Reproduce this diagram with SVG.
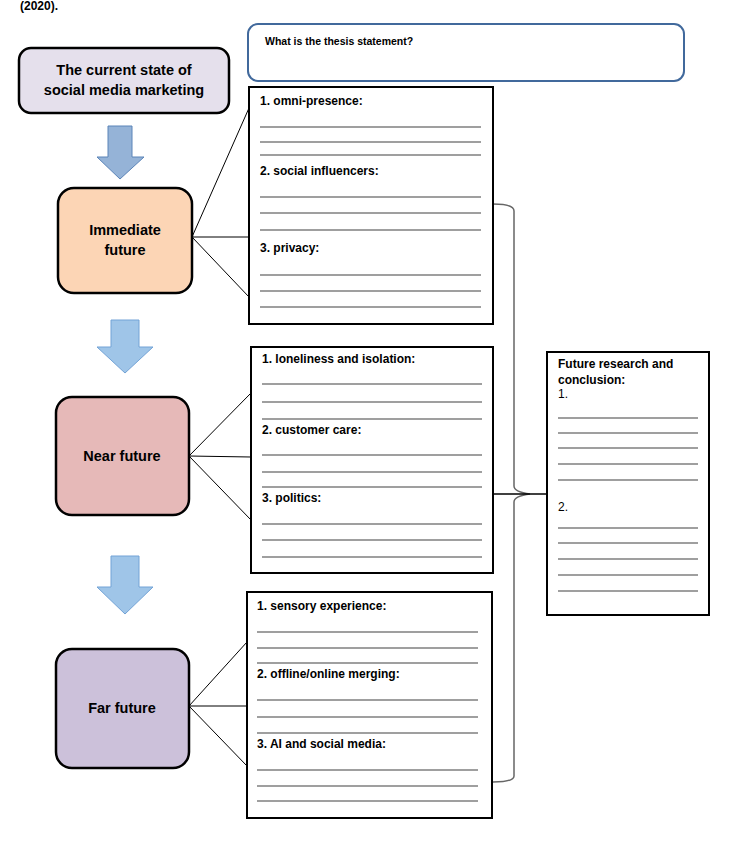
<svg xmlns="http://www.w3.org/2000/svg" width="729" height="845" viewBox="0 0 729 845">
<style>
text{font-family:"Liberation Sans",Arial,sans-serif;fill:#000}
.b{font-weight:bold}
.t14{font-size:14.5px;font-weight:bold}
.t12{font-size:12px}
.node{stroke:#000;stroke-width:2.5}
.box{fill:#fff;stroke:#000;stroke-width:2}
.ln{stroke:#7f7f7f;stroke-width:1.5}
.con{stroke:#000;stroke-width:1;fill:none}
.arr1{fill:#95b3d7;stroke:#5b84b8;stroke-width:1}
.arr2{fill:#9fc5e8;stroke:#73a3d6;stroke-width:1}
</style>
<rect width="729" height="845" fill="#fff"/>
<text x="20" y="10" class="t12 b">(2020).</text>

<g id="connectors">
<line class="con" x1="192" y1="237" x2="249" y2="108"/>
<line class="con" x1="192" y1="237" x2="249" y2="237"/>
<line class="con" x1="192" y1="237" x2="249" y2="297"/>
<line class="con" x1="189" y1="456" x2="251" y2="393"/>
<line class="con" x1="189" y1="456" x2="251" y2="457"/>
<line class="con" x1="189" y1="456" x2="251" y2="520"/>
<line class="con" x1="189" y1="706" x2="247" y2="642"/>
<line class="con" x1="189" y1="706" x2="247" y2="706"/>
<line class="con" x1="189" y1="706" x2="247" y2="766"/>
<path d="M493 204 Q514 204 514 211 L514 486 Q514 492 530 494 Q514 496 514 502 L514 776 Q514 782 493 782" fill="none" stroke="#666" stroke-width="1.5"/>
<line x1="493" y1="494" x2="547" y2="494" stroke="#000" stroke-width="1.5"/>
<polygon class="arr1" points="108,126 132,126 132,157 144,157 120,179 97,157 108,157"/>
<polygon class="arr2" points="111,320 139,320 139,347 153,347 125,373 97,347 111,347"/>
<polygon class="arr2" points="111,556 139,556 139,587 153,587 125,614 97,587 111,587"/>
</g>

<g id="current">
<rect class="node" x="19" y="48" width="210" height="65" rx="12" fill="#e5e0ec"/>
<text x="124" y="75" text-anchor="middle" class="t14">The current state of</text>
<text x="124" y="95" text-anchor="middle" class="t14">social media marketing</text>
</g>

<g id="immediate">
<rect class="node" x="58" y="188" width="134" height="105" rx="16" fill="#fcd5b5"/>
<text x="125" y="235" text-anchor="middle" class="t14">Immediate</text>
<text x="125" y="255" text-anchor="middle" class="t14">future</text>
</g>

<g id="near">
<rect class="node" x="56" y="397" width="133" height="118" rx="16" fill="#e6b9b8"/>
<text x="122" y="461" text-anchor="middle" class="t14">Near future</text>
</g>

<g id="far">
<rect class="node" x="56" y="649" width="133" height="119" rx="16" fill="#ccc1da"/>
<text x="122" y="713" text-anchor="middle" class="t14">Far future</text>
</g>

<g id="thesis">
<rect x="248" y="24" width="436" height="57" rx="10" fill="#fff" stroke="#41699c" stroke-width="2"/>
<text x="265" y="45" class="b" font-size="10.5">What is the thesis statement?</text>
</g>

<g id="box-immediate">
<rect class="box" x="249" y="87" width="244" height="237"/>
<text x="260" y="105" class="t12 b">1. omni-presence:</text>
<line class="ln" x1="260" y1="127" x2="481" y2="127"/>
<line class="ln" x1="260" y1="142" x2="481" y2="142"/>
<line class="ln" x1="260" y1="155" x2="481" y2="155"/>
<text x="260" y="175" class="t12 b">2. social influencers:</text>
<line class="ln" x1="260" y1="197" x2="481" y2="197"/>
<line class="ln" x1="260" y1="213" x2="481" y2="213"/>
<line class="ln" x1="260" y1="230" x2="481" y2="230"/>
<text x="260" y="252" class="t12 b">3. privacy:</text>
<line class="ln" x1="260" y1="275" x2="481" y2="275"/>
<line class="ln" x1="260" y1="291" x2="481" y2="291"/>
<line class="ln" x1="260" y1="307" x2="481" y2="307"/>
</g>

<g id="box-near">
<rect class="box" x="251" y="347" width="242" height="226"/>
<text x="262" y="363" class="t12 b">1. loneliness and isolation:</text>
<line class="ln" x1="262" y1="384" x2="482" y2="384"/>
<line class="ln" x1="262" y1="402" x2="482" y2="402"/>
<line class="ln" x1="262" y1="419" x2="482" y2="419"/>
<text x="262" y="434" class="t12 b">2. customer care:</text>
<line class="ln" x1="262" y1="455" x2="482" y2="455"/>
<line class="ln" x1="262" y1="472" x2="482" y2="472"/>
<line class="ln" x1="262" y1="487" x2="482" y2="487"/>
<text x="262" y="502" class="t12 b">3. politics:</text>
<line class="ln" x1="262" y1="524" x2="482" y2="524"/>
<line class="ln" x1="262" y1="540" x2="482" y2="540"/>
<line class="ln" x1="262" y1="557" x2="482" y2="557"/>
</g>

<g id="box-far">
<rect class="box" x="247" y="592" width="245" height="226"/>
<text x="257" y="610" class="t12 b">1. sensory experience:</text>
<line class="ln" x1="257" y1="632" x2="478" y2="632"/>
<line class="ln" x1="257" y1="648" x2="478" y2="648"/>
<line class="ln" x1="257" y1="663" x2="478" y2="663"/>
<text x="257" y="678" class="t12 b">2. offline/online merging:</text>
<line class="ln" x1="257" y1="700" x2="478" y2="700"/>
<line class="ln" x1="257" y1="717" x2="478" y2="717"/>
<line class="ln" x1="257" y1="733" x2="478" y2="733"/>
<text x="257" y="748" class="t12 b">3. AI and social media:</text>
<line class="ln" x1="257" y1="770" x2="478" y2="770"/>
<line class="ln" x1="257" y1="786" x2="478" y2="786"/>
<line class="ln" x1="257" y1="801" x2="478" y2="801"/>
</g>

<g id="conclusion">
<rect class="box" x="547" y="352" width="162" height="263"/>
<text x="558" y="368" class="t12 b">Future research and</text>
<text x="558" y="384" class="t12 b">conclusion:</text>
<text x="558" y="398" class="t12">1.</text>
<line class="ln" x1="558" y1="418" x2="698" y2="418"/>
<line class="ln" x1="558" y1="433" x2="698" y2="433"/>
<line class="ln" x1="558" y1="448" x2="698" y2="448"/>
<line class="ln" x1="558" y1="464" x2="698" y2="464"/>
<line class="ln" x1="558" y1="480" x2="698" y2="480"/>
<text x="558" y="511" class="t12">2.</text>
<line class="ln" x1="558" y1="528" x2="698" y2="528"/>
<line class="ln" x1="558" y1="543" x2="698" y2="543"/>
<line class="ln" x1="558" y1="559" x2="698" y2="559"/>
<line class="ln" x1="558" y1="575" x2="698" y2="575"/>
<line class="ln" x1="558" y1="591" x2="698" y2="591"/>
</g>
</svg>
